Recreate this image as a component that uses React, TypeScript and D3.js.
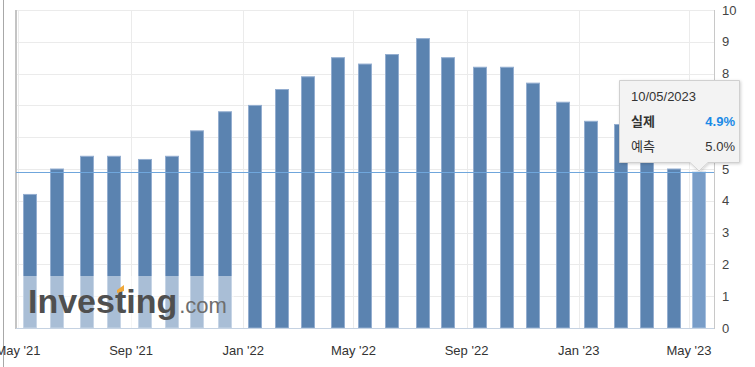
import React, { useEffect, useRef } from "react";
import * as d3 from "d3";

// release dates (UTC) and actual YoY CPI values
const releaseDates = [
  "2021-05-12", "2021-06-10", "2021-07-13", "2021-08-11", "2021-09-14", "2021-10-13",
  "2021-11-10", "2021-12-10", "2022-01-12", "2022-02-10", "2022-03-10", "2022-04-12",
  "2022-05-11", "2022-06-10", "2022-07-13", "2022-08-10", "2022-09-13", "2022-10-13",
  "2022-11-10", "2022-12-13", "2023-01-12", "2023-02-14", "2023-03-14", "2023-04-12",
  "2023-05-10",
];
const actualValues = [
  4.2, 5.0, 5.4, 5.4, 5.3, 5.4, 6.2, 6.8, 7.0, 7.5, 7.9, 8.5, 8.3,
  8.6, 9.1, 8.5, 8.2, 8.2, 7.7, 7.1, 6.5, 6.4, 6.0, 5.0, 4.9,
];
const yTicks = [0, 1, 2, 3, 4, 5, 6, 7, 8, 9, 10];
const tipDate = "10/05/2023";
const tipActualLabel = "실제";
const tipForecastLabel = "예측";
const tipActual = "4.9%";
const tipForecast = "5.0%";

const W = 755, H = 367;
const FONT = "'Liberation Sans', Arial, 'Noto Sans CJK KR', sans-serif";

export default function App() {
  const ref = useRef<SVGSVGElement>(null);

  useEffect(() => {
    const svg = d3.select(ref.current);
    svg.selectAll("*").remove();

    const left = 16, right = 714, top = 10, bottom = 328;
    const x = d3.scaleUtc()
      .domain([new Date(Date.UTC(2021, 3, 28, 20)), new Date(Date.UTC(2023, 4, 28, 5))])
      .range([left, right]);
    const y = d3.scaleLinear().domain([0, 10]).range([bottom, top]);
    const dates = releaseDates.map(d => new Date(d + "T00:00:00Z"));
    const xTicks = x.ticks(d3.utcMonth.every(4) as any);
    const barW = 14, barShift = 2;

    // page edge
    svg.append("line").attr("x1", 3.5).attr("x2", 3.5).attr("y1", 0).attr("y2", H)
      .attr("stroke", "#a8a8a8");

    const g = svg.append("g");

    // grid
    g.selectAll(".hg").data(yTicks).join("line")
      .attr("x1", left).attr("x2", right)
      .attr("y1", d => Math.round(y(d)) + 0.5).attr("y2", d => Math.round(y(d)) + 0.5)
      .attr("stroke", "#ebebeb");
    g.selectAll(".vg").data(xTicks).join("line")
      .attr("x1", d => Math.round(x(d)) + 0.5).attr("x2", d => Math.round(x(d)) + 0.5)
      .attr("y1", top).attr("y2", bottom)
      .attr("stroke", "#ebebeb");

    // bars
    g.selectAll(".bar").data(actualValues).join("rect")
      .attr("x", (d, i) => Math.round(x(dates[i]) + barShift - barW / 2) + 0.5)
      .attr("y", d => y(d))
      .attr("width", barW - 1)
      .attr("height", d => bottom - y(d))
      .attr("fill", (d, i) => i === actualValues.length - 1 ? "#789dc8" : "#5b83b0")
      .attr("stroke", (d, i) => i === actualValues.length - 1 ? "#a7c0de" : "#94aed0")
      .attr("stroke-width", 1);

    // axis lines
    svg.append("line").attr("x1", left).attr("x2", left).attr("y1", top).attr("y2", bottom + 1)
      .attr("stroke", "#c4c4c4").attr("stroke-width", 2);
    svg.append("line").attr("x1", left).attr("x2", right).attr("y1", bottom + 0.5).attr("y2", bottom + 0.5)
      .attr("stroke", "#c5d2e2");
    svg.append("line").attr("x1", right + 0.5).attr("x2", right + 0.5).attr("y1", top).attr("y2", bottom + 1)
      .attr("stroke", "#c8c8c8");

    // watermark
    svg.append("rect").attr("x", left + 1).attr("y", 276).attr("width", 217).attr("height", bottom - 276)
      .attr("fill", "#ffffff").attr("opacity", 0.48);
    const wm = svg.append("text").attr("x", 28).attr("y", 313).attr("font-family", FONT);
    wm.append("tspan").attr("font-size", 34).attr("font-weight", "bold").attr("fill", "#4f4f4f")
      .text("Investing");
    wm.append("tspan").attr("dx", 2).attr("font-size", 22).attr("fill", "#6e6e6e").text(".com");
    svg.append("path").attr("d", "M117,290 L124,285 L124,291 L117,293 Z").attr("fill", "#f0a83a");

    // crosshair
    const last = actualValues.length - 1;
    const tipX = Math.round(x(dates[last]) + barShift);
    const tipY = y(actualValues[last]);
    svg.append("line").attr("x1", left).attr("x2", right).attr("y1", Math.round(tipY) + 0.5).attr("y2", Math.round(tipY) + 0.5)
      .attr("stroke", "#6fa6dc").attr("stroke-width", 1);

    // tooltip box geometry
    const bx = tipX - 80, by = 80, bw = 120, bh = 82, ty = Math.round(tipY) - 1;

    // y tick labels (those under the tooltip are hidden by it)
    svg.selectAll(".yl").data(yTicks.filter(d => y(d) < by || y(d) > by + bh)).join("text")
      .attr("x", 722).attr("y", d => y(d)).attr("dy", "0.35em")
      .attr("font-family", FONT).attr("font-size", 13).attr("fill", "#444")
      .text(d => d);

    // x tick labels
    svg.selectAll(".xl").data(xTicks).join("text")
      .attr("x", d => x(d)).attr("y", 355).attr("text-anchor", "middle")
      .attr("font-family", FONT).attr("font-size", 13).attr("fill", "#333")
      .text(d => d3.utcFormat("%b '%y")(d));

    // tooltip
    const defs = svg.append("defs");
    const f = defs.append("filter").attr("id", "sh").attr("x", "-20%").attr("y", "-20%").attr("width", "140%").attr("height", "140%");
    f.append("feDropShadow").attr("dx", 1).attr("dy", 1).attr("stdDeviation", 1.5)
      .attr("flood-color", "#000").attr("flood-opacity", 0.18);
    svg.append("path")
      .attr("d", `M${bx + 0.5},${by + 0.5} H${bx + bw + 0.5} V${by + bh + 0.5} H${tipX + 9} L${tipX},${ty} L${tipX - 9},${by + bh + 0.5} H${bx + 0.5} Z`)
      .attr("fill", "#f3f3f3").attr("stroke", "#d0d0d0").attr("filter", "url(#sh)");
    const t = svg.append("g").attr("font-family", FONT).attr("font-size", 13).attr("fill", "#333");
    t.append("text").attr("x", bx + 12).attr("y", by + 21).text(tipDate);
    t.append("text").attr("x", bx + 12).attr("y", by + 46).attr("font-weight", "bold").text(tipActualLabel);
    t.append("text").attr("x", bx + bw - 4).attr("y", by + 46).attr("text-anchor", "end")
      .attr("font-weight", "bold").attr("fill", "#1a8ae6").text(tipActual);
    t.append("text").attr("x", bx + 12).attr("y", by + 71).text(tipForecastLabel);
    t.append("text").attr("x", bx + bw - 4).attr("y", by + 71).attr("text-anchor", "end").text(tipForecast);
  }, []);

  return (
    <svg ref={ref} width={W} height={H}
      style={{ position: "absolute", left: 0, top: 0, background: "#fff" }} />
  );
}
